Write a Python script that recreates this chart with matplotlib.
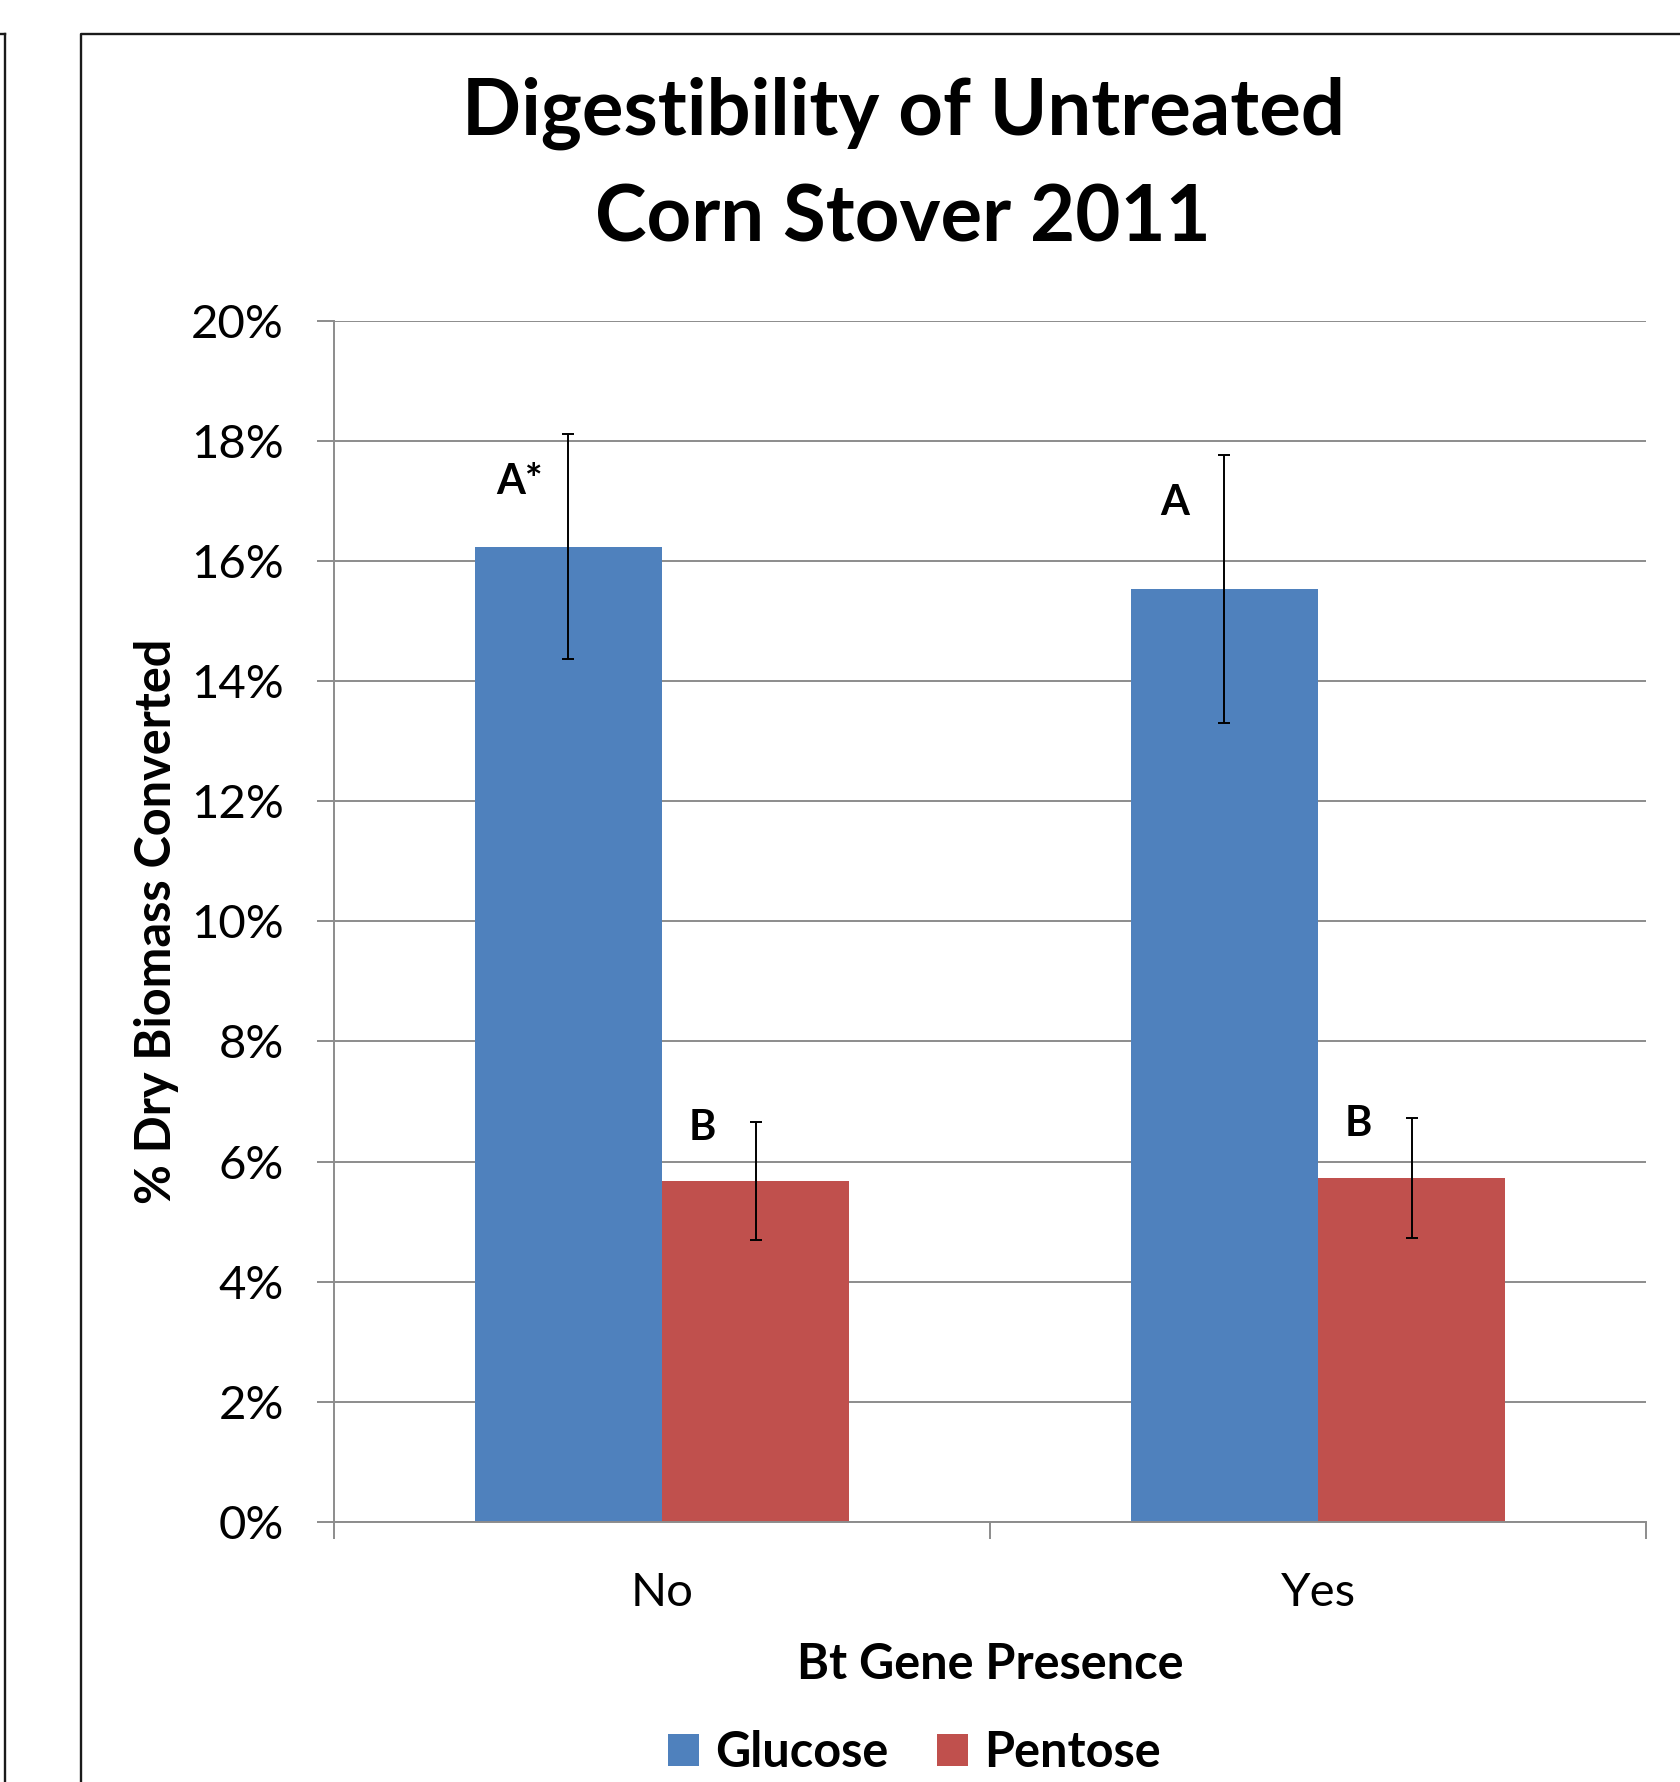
import numpy as np
import matplotlib
matplotlib.use('Agg')
import matplotlib.pyplot as plt
from matplotlib.lines import Line2D
from matplotlib.ticker import FuncFormatter

plt.rcParams['font.family'] = ['Lato', 'DejaVu Sans']

# data
categories = ['No', 'Yes']
glucose = [16.24, 15.53]
pentose = [5.68, 5.73]
glucose_err = [1.87, 2.23]
pentose_err = [0.98, 1.00]
glucose_letters = ['A*', 'A']
pentose_letters = ['B', 'B']

blue = '#4F81BD'
red = '#C0504D'
grid_gray = '#8C8C8C'

fig = plt.figure(figsize=(16.8, 17.82), dpi=100)
ax = fig.add_axes([0.19881, 0.14590, 0.78095, 0.67413])

x = np.arange(len(categories))
w = 2 / 7

b1 = ax.bar(x - w / 2, glucose, w, color=blue, label='Glucose', zorder=2)
b2 = ax.bar(x + w / 2, pentose, w, color=red, label='Pentose', zorder=2)
ax.errorbar(x - w / 2, glucose, yerr=glucose_err, fmt='none', ecolor='black',
            elinewidth=1.4, capsize=4, capthick=1.4, zorder=3)
ax.errorbar(x + w / 2, pentose, yerr=pentose_err, fmt='none', ecolor='black',
            elinewidth=1.4, capsize=4, capthick=1.4, zorder=3)

# significance letters
for i in range(len(categories)):
    ax.text(x[i] - w / 2 - 0.075, glucose[i] + glucose_err[i] - 0.8, glucose_letters[i],
            ha='center', va='center', fontsize=30, fontweight='bold')
    ax.text(x[i] + w / 2 - 0.082, pentose[i] + pentose_err[i] - 0.1, pentose_letters[i],
            ha='center', va='center', fontsize=30, fontweight='bold')

ax.set_xlim(-0.5, 1.5)
ax.set_ylim(0, 20)
ax.set_yticks(np.arange(0, 21, 2))
ax.yaxis.set_major_formatter(FuncFormatter(lambda v, p: f'{v:.0f}%'))
ax.grid(axis='y', color=grid_gray, linewidth=1.4, zorder=0)
ax.set_axisbelow(True)

ax.set_xticks(x)
ax.set_xticklabels(categories)
ax.set_xticks([-0.5, 0.5, 1.5], minor=True)
ax.tick_params(axis='x', which='major', length=0, pad=36, labelsize=34)
ax.tick_params(axis='x', which='minor', length=12.5, width=1.4, color=grid_gray)
ax.tick_params(axis='y', length=12, width=1.4, color=grid_gray, pad=24, labelsize=34)

for s in ['top', 'right']:
    ax.spines[s].set_visible(False)
for s in ['left', 'bottom']:
    ax.spines[s].set_color(grid_gray)
    ax.spines[s].set_linewidth(1.4)

ax.set_ylabel('% Dry Biomass Converted', fontsize=35, fontweight='bold', va='center')
ax.yaxis.set_label_coords(-0.135, 0.5)
ax.set_xlabel('Bt Gene Presence', fontsize=35, fontweight='bold', va='baseline')
ax.xaxis.set_label_coords(0.5, -0.131)

fig.text(0.5375, 0.92424, 'Digestibility of Untreated', ha='center', va='baseline',
         fontsize=56, fontweight='bold')
fig.text(0.5375, 0.86420, 'Corn Stover 2011', ha='center', va='baseline',
         fontsize=56, fontweight='bold')

fig.legend(handles=[b1, b2], loc='center', bbox_to_anchor=(0.5445, 0.0165), ncol=2,
           frameon=False, prop={'size': 35, 'weight': 'bold'},
           handlelength=0.62, handleheight=0.62, handletextpad=0.35,
           columnspacing=1.0, borderpad=0, borderaxespad=0)

# chart frame borders
H, W = 1782, 1680
fig.add_artist(Line2D([4.5 / W, 4.5 / W], [0, 1 - 34 / H], color='#1a1a1a', lw=1.7,
                      transform=fig.transFigure))
fig.add_artist(Line2D([0, 4.5 / W], [1 - 34 / H, 1 - 34 / H], color='#1a1a1a', lw=1.7,
                      transform=fig.transFigure))
fig.add_artist(Line2D([81 / W, 81 / W, 1], [0, 1 - 34 / H, 1 - 34 / H], color='#1a1a1a',
                      lw=1.7, transform=fig.transFigure))

fig.savefig('out.png', dpi=100)
